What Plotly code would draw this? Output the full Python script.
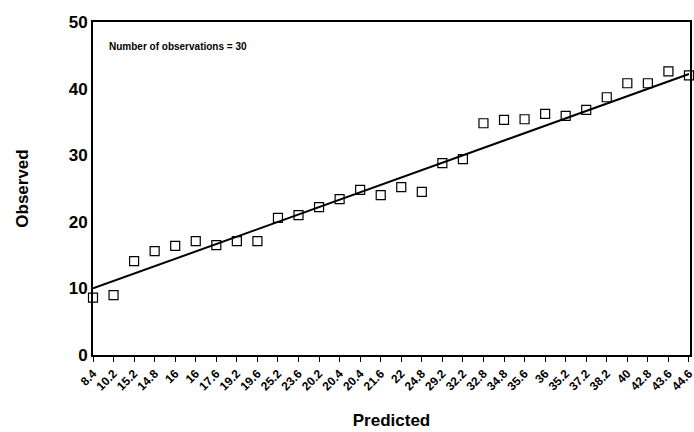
import plotly.graph_objects as go

predicted_labels = ["8.4", "10.2", "15.2", "14.8", "16", "16", "17.6", "19.2", "19.6", "25.2",
                    "23.6", "20.2", "20.4", "20.4", "21.6", "22", "24.8", "29.2", "32.2", "32.8",
                    "34.8", "35.6", "36", "35.2", "37.2", "38.2", "40", "42.8", "43.6", "44.6"]
observed = [8.6, 9.0, 14.1, 15.6, 16.4, 17.1, 16.5, 17.1, 17.1, 20.6,
            21.0, 22.2, 23.4, 24.8, 24.0, 25.2, 24.5, 28.8, 29.4, 34.8,
            35.3, 35.4, 36.2, 35.9, 36.8, 38.7, 40.8, 40.8, 42.6, 42.0]
fit_x = [0, 29]
fit_y = [10.0, 42.2]
y_ticks = [0, 10, 20, 30, 40, 50]

idx = list(range(len(predicted_labels)))
FONT = "Liberation Sans, Arial, sans-serif"

fig = go.Figure()
fig.add_trace(go.Scatter(x=fit_x, y=fit_y, mode="lines",
                         line=dict(color="black", width=2), showlegend=False))
fig.add_trace(go.Scatter(x=idx, y=observed, mode="markers",
                         marker=dict(symbol="square-open", size=9, color="black",
                                     line=dict(width=1.2)),
                         showlegend=False, cliponaxis=False))

fig.update_layout(
    width=694, height=432,
    margin=dict(l=93, r=2, t=22, b=77),
    paper_bgcolor="white", plot_bgcolor="white",
    font=dict(family=FONT, color="black"),
    xaxis=dict(range=[0, 29.05], tickmode="array", tickvals=idx, ticktext=predicted_labels,
               tickangle=-45, tickfont=dict(size=12, family=FONT, weight="bold"),
               ticklabeloverflow="allow",
               ticks="outside", ticklen=5, tickwidth=1, tickcolor="black",
               showline=True, linecolor="black", linewidth=2, mirror=True,
               showgrid=False, zeroline=False, automargin=False,
               title=dict(text="<b>Predicted</b>", font=dict(size=17), standoff=22)),
    yaxis=dict(range=[0, 50], tickmode="array", tickvals=y_ticks,
               tickfont=dict(size=17, family=FONT, weight="bold"),
               ticks="", showline=True, linecolor="black", linewidth=2, mirror=True,
               showgrid=False, zeroline=False,
               title=dict(text="<b>Observed</b>", font=dict(size=17), standoff=36)),
    annotations=[dict(text="<b>Number of observations = 30</b>", xref="paper", yref="paper",
                      x=0.023, y=0.925, xanchor="left", yanchor="middle",
                      showarrow=False, font=dict(size=10, family=FONT))],
)

fig.write_html("out.html")
